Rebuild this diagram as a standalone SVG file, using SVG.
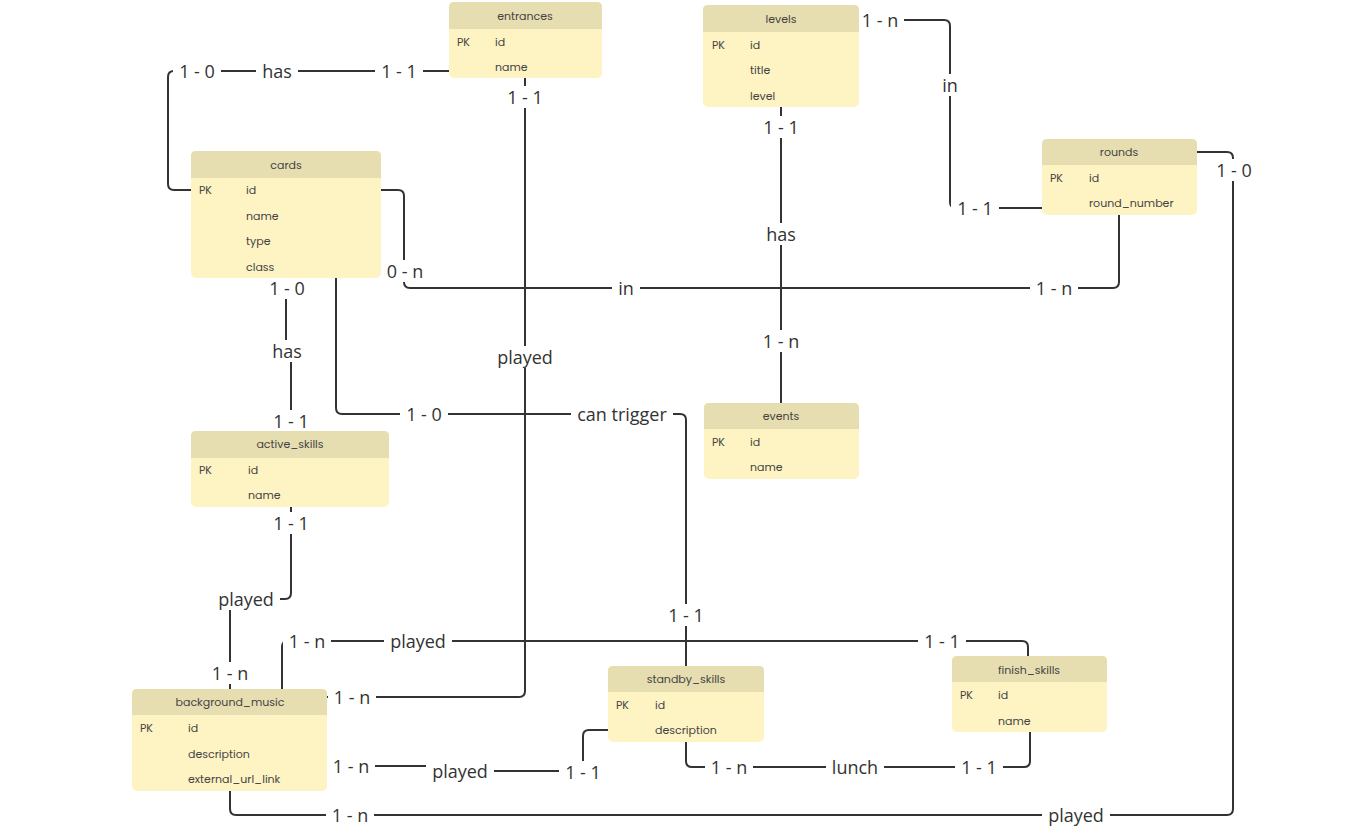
<svg xmlns="http://www.w3.org/2000/svg" width="1346" height="840" viewBox="0 0 1346 840">
<style>
.hd{fill:#E6DDB0}
.bd{fill:#FEF3C3}
.tt{font-family:"Poppins","Inter","Liberation Sans",sans-serif;font-size:11px;fill:#444;dominant-baseline:central}
.th{text-anchor:middle}
.ln{fill:none;stroke:#333;stroke-width:2}
.bg{fill:#fff}
.lb{font-family:"Open Sans","Liberation Sans",sans-serif;font-size:18px;fill:#333;text-anchor:middle;dominant-baseline:central}
</style>
<defs>
<rect id="w36" class="bg" x="-24" y="-11" width="48" height="22"/>
<rect id="w30" class="bg" x="-21" y="-11" width="42" height="22"/>
<rect id="w16" class="bg" x="-14" y="-11" width="28" height="22"/>
<rect id="w56" class="bg" x="-34" y="-11" width="68" height="22"/>
<rect id="w90" class="bg" x="-51" y="-11" width="102" height="22"/>
<rect id="w46" class="bg" x="-29" y="-11" width="58" height="22"/>
</defs>
<rect width="1346" height="840" fill="#fff"/>
<g id="connectors">
<path class="ln" d="M191,190 H174 Q168,190 168,184 V77 Q168,71 174,71 H449"/>
<path class="ln" d="M525,78 V691 Q525,697 519,697 H327"/>
<path class="ln" d="M781,107 V403"/>
<path class="ln" d="M859,20 H944 Q950,20 950,26 V202 Q950,208 956,208 H1042"/>
<path class="ln" d="M381,190 H398 Q404,190 404,196 V282 Q404,288 410,288 H1113 Q1119,288 1119,282 V215"/>
<path class="ln" d="M286,278 V351 H291 V431"/>
<path class="ln" d="M336,278 V408 Q336,414 342,414 H680 Q686,414 686,420 V666"/>
<path class="ln" d="M291,507 V593 Q291,599 285,599 H230 V689"/>
<path class="ln" d="M282,689 V647 Q282,641 288,641 H1022 Q1028,641 1028,647 V656"/>
<path class="ln" d="M327,766 H460 V771 H583 V736 Q583,730 589,730 H608"/>
<path class="ln" d="M686,742 V761 Q686,767 692,767 H1024 Q1030,767 1030,761 V732"/>
<path class="ln" d="M1197,152 H1227 Q1233,152 1233,158 V809 Q1233,815 1227,815 H236 Q230,815 230,809 V791"/>
<use href="#w36" x="197" y="71"/><text class="lb" x="197" y="71">1 - 0</text>
<use href="#w30" x="277" y="71"/><text class="lb" x="277" y="71">has</text>
<use href="#w36" x="399" y="71"/><text class="lb" x="399" y="71">1 - 1</text>
<use href="#w36" x="525" y="97"/><text class="lb" x="525" y="97">1 - 1</text>
<use href="#w56" x="525" y="357"/><text class="lb" x="525" y="357">played</text>
<use href="#w36" x="352" y="697"/><text class="lb" x="352" y="697">1 - n</text>
<use href="#w36" x="781" y="127"/><text class="lb" x="781" y="127">1 - 1</text>
<use href="#w30" x="781" y="234"/><text class="lb" x="781" y="234">has</text>
<use href="#w36" x="781" y="341"/><text class="lb" x="781" y="341">1 - n</text>
<use href="#w36" x="880" y="20"/><text class="lb" x="880" y="20">1 - n</text>
<use href="#w16" x="950" y="85"/><text class="lb" x="950" y="85">in</text>
<use href="#w36" x="975" y="208"/><text class="lb" x="975" y="208">1 - 1</text>
<use href="#w36" x="405" y="271"/><text class="lb" x="405" y="271">0 - n</text>
<use href="#w16" x="626" y="288"/><text class="lb" x="626" y="288">in</text>
<use href="#w36" x="1054" y="288"/><text class="lb" x="1054" y="288">1 - n</text>
<use href="#w36" x="287" y="288"/><text class="lb" x="287" y="288">1 - 0</text>
<use href="#w30" x="287" y="351"/><text class="lb" x="287" y="351">has</text>
<use href="#w36" x="291" y="421"/><text class="lb" x="291" y="421">1 - 1</text>
<use href="#w36" x="424" y="414"/><text class="lb" x="424" y="414">1 - 0</text>
<use href="#w90" x="622" y="414"/><text class="lb" x="622" y="414">can trigger</text>
<use href="#w36" x="686" y="615"/><text class="lb" x="686" y="615">1 - 1</text>
<use href="#w36" x="291" y="523"/><text class="lb" x="291" y="523">1 - 1</text>
<use href="#w56" x="246" y="599"/><text class="lb" x="246" y="599">played</text>
<use href="#w36" x="230" y="673"/><text class="lb" x="230" y="673">1 - n</text>
<use href="#w36" x="307" y="641"/><text class="lb" x="307" y="641">1 - n</text>
<use href="#w56" x="418" y="641"/><text class="lb" x="418" y="641">played</text>
<use href="#w36" x="942" y="641"/><text class="lb" x="942" y="641">1 - 1</text>
<use href="#w36" x="351" y="766"/><text class="lb" x="351" y="766">1 - n</text>
<use href="#w56" x="460" y="771"/><text class="lb" x="460" y="771">played</text>
<use href="#w36" x="583" y="772"/><text class="lb" x="583" y="772">1 - 1</text>
<use href="#w36" x="729" y="767"/><text class="lb" x="729" y="767">1 - n</text>
<use href="#w46" x="855" y="767"/><text class="lb" x="855" y="767">lunch</text>
<use href="#w36" x="979" y="767"/><text class="lb" x="979" y="767">1 - 1</text>
<use href="#w36" x="1234" y="170"/><text class="lb" x="1234" y="170">1 - 0</text>
<use href="#w56" x="1076" y="815"/><text class="lb" x="1076" y="815">played</text>
<use href="#w36" x="350" y="815"/><text class="lb" x="350" y="815">1 - n</text>
</g>
<g id="entrances">
<rect class="bd" x="449" y="2" width="153" height="76" rx="5"/>
<path class="hd" d="M449,29 V7 Q449,2 454,2 H597 Q602,2 602,7 V29 Z"/>
<text class="tt th" x="525" y="16">entrances</text>
<text class="tt" x="457" y="42">PK</text><text class="tt" x="495" y="42">id</text>
<text class="tt" x="495" y="67">name</text>
</g>
<g id="levels">
<rect class="bd" x="703" y="5" width="156" height="102" rx="5"/>
<path class="hd" d="M703,32 V10 Q703,5 708,5 H854 Q859,5 859,10 V32 Z"/>
<text class="tt th" x="781" y="19">levels</text>
<text class="tt" x="712" y="45">PK</text><text class="tt" x="750" y="45">id</text>
<text class="tt" x="750" y="70">title</text>
<text class="tt" x="750" y="96">level</text>
</g>
<g id="cards">
<rect class="bd" x="191" y="151" width="190" height="127" rx="5"/>
<path class="hd" d="M191,178 V156 Q191,151 196,151 H376 Q381,151 381,156 V178 Z"/>
<text class="tt th" x="286" y="165">cards</text>
<text class="tt" x="199" y="190">PK</text><text class="tt" x="246" y="190">id</text>
<text class="tt" x="246" y="216">name</text>
<text class="tt" x="246" y="241">type</text>
<text class="tt" x="246" y="267">class</text>
</g>
<g id="rounds">
<rect class="bd" x="1042" y="139" width="155" height="76" rx="5"/>
<path class="hd" d="M1042,165 V144 Q1042,139 1047,139 H1192 Q1197,139 1197,144 V165 Z"/>
<text class="tt th" x="1119" y="152">rounds</text>
<text class="tt" x="1050" y="178">PK</text><text class="tt" x="1089" y="178">id</text>
<text class="tt" x="1089" y="203">round_number</text>
</g>
<g id="active_skills">
<rect class="bd" x="191" y="431" width="198" height="76" rx="5"/>
<path class="hd" d="M191,458 V436 Q191,431 196,431 H384 Q389,431 389,436 V458 Z"/>
<text class="tt th" x="290" y="444">active_skills</text>
<text class="tt" x="199" y="470">PK</text><text class="tt" x="248" y="470">id</text>
<text class="tt" x="248" y="495">name</text>
</g>
<g id="events">
<rect class="bd" x="704" y="403" width="155" height="76" rx="5"/>
<path class="hd" d="M704,429 V408 Q704,403 709,403 H854 Q859,403 859,408 V429 Z"/>
<text class="tt th" x="781" y="416">events</text>
<text class="tt" x="712" y="442">PK</text><text class="tt" x="750" y="442">id</text>
<text class="tt" x="750" y="467">name</text>
</g>
<g id="background_music">
<rect class="bd" x="132" y="689" width="195" height="102" rx="5"/>
<path class="hd" d="M132,715 V694 Q132,689 137,689 H322 Q327,689 327,694 V715 Z"/>
<text class="tt th" x="230" y="702">background_music</text>
<text class="tt" x="140" y="728">PK</text><text class="tt" x="188" y="728">id</text>
<text class="tt" x="188" y="754">description</text>
<text class="tt" x="188" y="779">external_url_link</text>
</g>
<g id="standby_skills">
<rect class="bd" x="608" y="666" width="156" height="76" rx="5"/>
<path class="hd" d="M608,692 V671 Q608,666 613,666 H759 Q764,666 764,671 V692 Z"/>
<text class="tt th" x="686" y="679">standby_skills</text>
<text class="tt" x="616" y="705">PK</text><text class="tt" x="655" y="705">id</text>
<text class="tt" x="655" y="730">description</text>
</g>
<g id="finish_skills">
<rect class="bd" x="952" y="656" width="155" height="76" rx="5"/>
<path class="hd" d="M952,682 V661 Q952,656 957,656 H1102 Q1107,656 1107,661 V682 Z"/>
<text class="tt th" x="1029" y="670">finish_skills</text>
<text class="tt" x="960" y="695">PK</text><text class="tt" x="998" y="695">id</text>
<text class="tt" x="998" y="721">name</text>
</g>
</svg>
